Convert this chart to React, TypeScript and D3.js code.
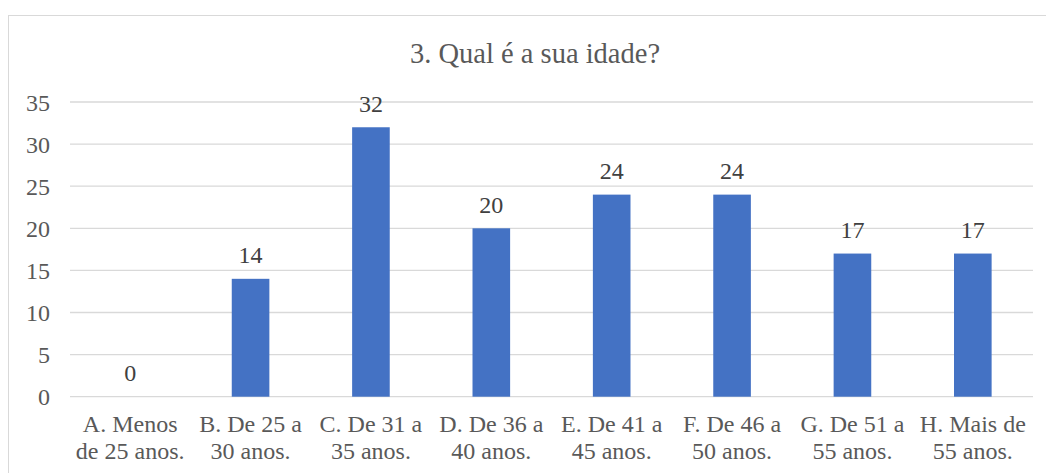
import React from "react";
import * as d3 from "d3";

const title = "3. Qual é a sua idade?";
const categoriesLine1 = ["A. Menos", "B. De 25 a", "C. De 31 a", "D. De 36 a", "E. De 41 a", "F. De 46 a", "G. De 51 a", "H. Mais de"];
const categoriesLine2 = ["de 25 anos.", "30 anos.", "35 anos.", "40 anos.", "45 anos.", "50 anos.", "55 anos.", "55 anos."];
const values = [0, 14, 32, 20, 24, 24, 17, 17];
const yTicks = [0, 5, 10, 15, 20, 25, 30, 35];

const W = 1046;
const H = 473;
const plotLeft = 70;
const plotRight = 1033;
const plotTop = 102;
const plotBottom = 396.7;
const font = "Liberation Serif";
const textColor = "#595959";

export default function App() {
  const idx = values.map((_, i) => String(i));
  const x = d3.scaleBand<string>().domain(idx).range([plotLeft, plotRight]).paddingInner(0.6875).paddingOuter(0.34375);
  const y = d3.scaleLinear().domain([0, 35]).range([plotBottom, plotTop]);

  return (
    <svg width={W} height={H} style={{ position: "absolute", left: 0, top: 0, background: "#fff" }}>
      <rect x={8.5} y={15.5} width={1054} height={470} fill="#fff" stroke="#d9d9d9" strokeWidth={1} />
      <text x={535} y={63} textAnchor="middle" fontFamily={font} fontSize={28.5} fill={textColor}>{title}</text>
      {yTicks.map((t) => (
        <g key={t}>
          <line x1={plotLeft} x2={plotRight} y1={y(t)} y2={y(t)} stroke="#d9d9d9" strokeWidth={1.3} />
          <text x={50} y={y(t) + 8.5} textAnchor="end" fontFamily={font} fontSize={24} fill={textColor}>{t}</text>
        </g>
      ))}
      {values.map((v, i) => (
        <g key={i}>
          <rect x={x(String(i))!} y={y(v)} width={x.bandwidth()} height={y(0) - y(v)} fill="#4472c4" />
          <text x={x(String(i))! + x.bandwidth() / 2} y={y(v) - 15.5} textAnchor="middle" fontFamily={font} fontSize={24} fill="#404040">{v}</text>
          <text x={x(String(i))! + x.bandwidth() / 2} y={432} textAnchor="middle" fontFamily={font} fontSize={24} fill={textColor}>{categoriesLine1[i]}</text>
          <text x={x(String(i))! + x.bandwidth() / 2} y={459} textAnchor="middle" fontFamily={font} fontSize={24} fill={textColor}>{categoriesLine2[i]}</text>
        </g>
      ))}
    </svg>
  );
}
